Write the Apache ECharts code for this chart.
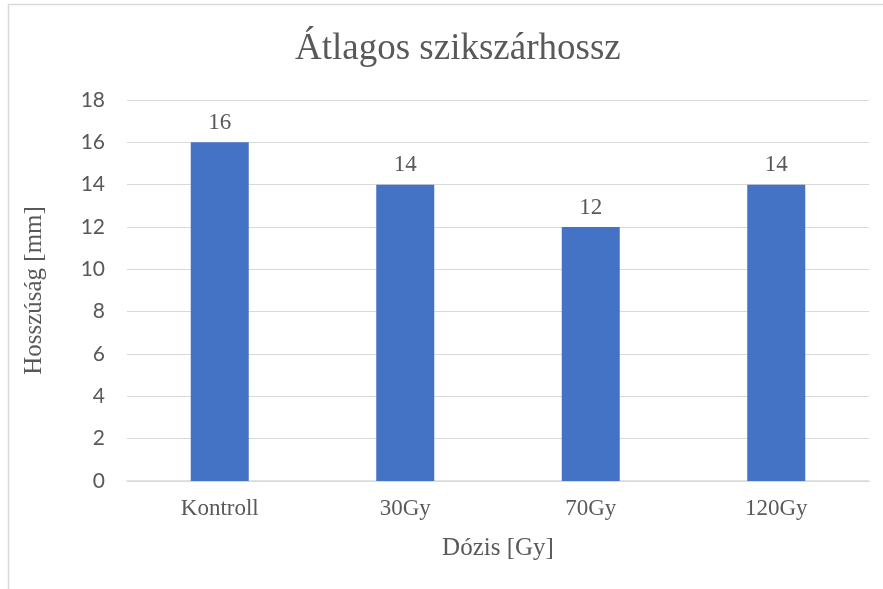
<!DOCTYPE html>
<html>
<head>
<meta charset="utf-8">
<script src="https://cdn.jsdelivr.net/npm/echarts@6/dist/echarts.min.js"></script>
<style>
  html, body { margin: 0; padding: 0; background: #fff; }
  #main { width: 883px; height: 589px; }
</style>
</head>
<body>
<div id="main"></div>
<script>
// adatok
var categories = ['Kontroll', '30Gy', '70Gy', '120Gy'];
var values = [16, 14, 12, 14];
var yTicks = [0, 2, 4, 6, 8, 10, 12, 14, 16, 18];

var serif = '"Liberation Serif", "Times New Roman", serif';
var textColor = '#595959';

var chart = echarts.init(document.getElementById('main'));
var option = {
  backgroundColor: '#fff',
  animation: false,
  graphic: [{
    type: 'rect',
    shape: { x: 8.5, y: 4.5, width: 900, height: 600 },
    style: { fill: 'none', stroke: '#d9d9d9', lineWidth: 1.5 },
    silent: true
  }],
  title: {
    text: 'Átlagos szikszárhossz',
    left: 290,
    top: 26,
    textStyle: { fontFamily: serif, fontSize: 37, fontWeight: 'normal', color: textColor }
  },
  grid: { left: 127, right: 14, top: 100, bottom: 108 },
  xAxis: {
    type: 'category',
    data: categories,
    name: 'Dózis [Gy]',
    nameLocation: 'middle',
    nameGap: 55,
    nameTextStyle: { fontFamily: serif, fontSize: 25, color: textColor },
    axisTick: { show: false },
    axisLine: { lineStyle: { color: '#d9d9d9', width: 1.5 } },
    axisLabel: { fontFamily: serif, fontSize: 23, color: textColor, margin: 16 }
  },
  yAxis: {
    type: 'value',
    min: yTicks[0],
    max: yTicks[yTicks.length - 1],
    interval: 2,
    name: 'Hosszúság [mm]',
    nameLocation: 'middle',
    nameGap: 80,
    nameRotate: 90,
    nameTextStyle: { fontFamily: serif, fontSize: 25, color: textColor },
    axisLine: { show: false },
    axisTick: { show: false },
    splitLine: { lineStyle: { color: '#d9d9d9', width: 1 } },
    axisLabel: { fontFamily: 'Lato, "Open Sans", sans-serif', fontSize: 21, color: textColor, margin: 22 }
  },
  series: [{
    type: 'bar',
    data: values,
    barWidth: 58,
    itemStyle: { color: '#4472c4' },
    label: {
      show: true,
      position: 'top',
      distance: 8,
      fontFamily: serif,
      fontSize: 23,
      color: textColor
    }
  }]
};
chart.setOption(option);
</script>
</body>
</html>
